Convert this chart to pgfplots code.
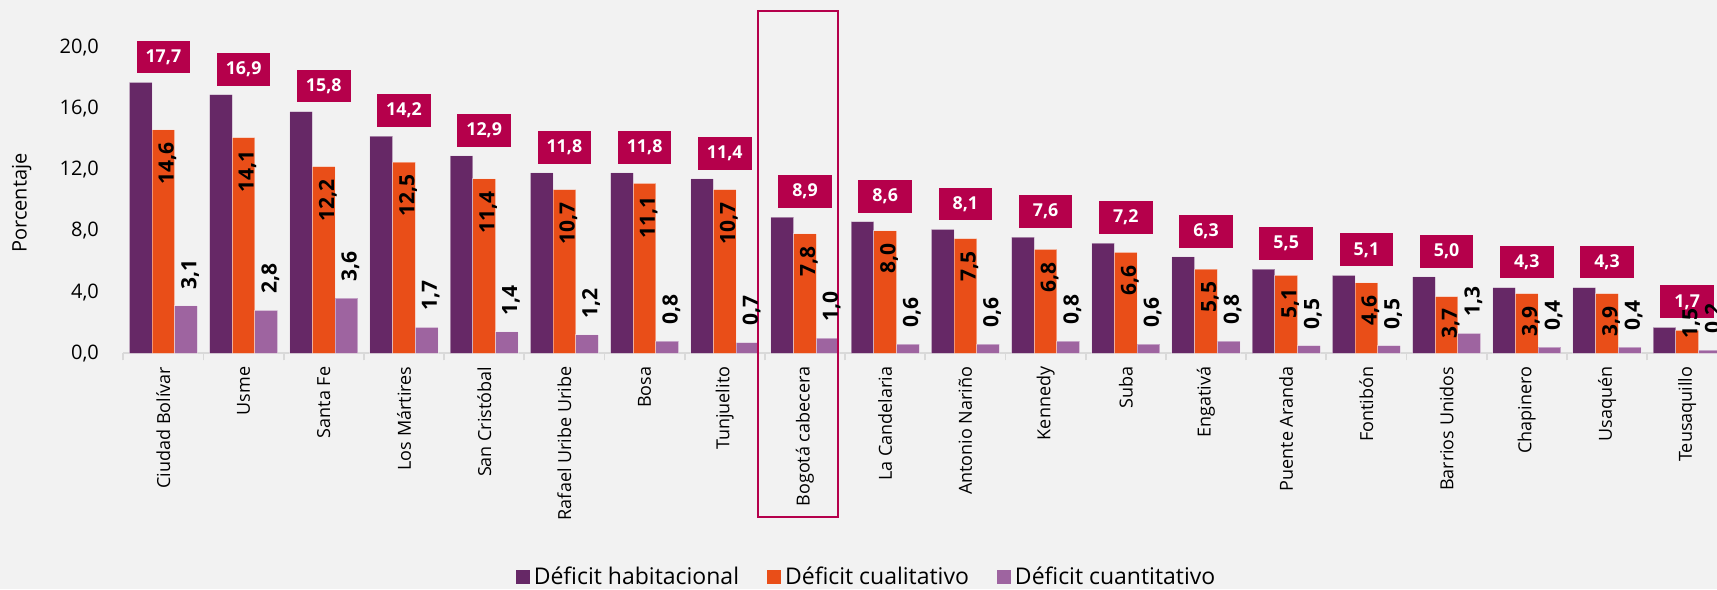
\documentclass[border=0pt]{standalone}
\usepackage{fontspec}
\setmainfont{Open Sans}
\usepackage{pgfplots}
\usepackage{pgfplotstable}
\pgfplotsset{compat=1.18}

\definecolor{fondo}{HTML}{F2F2F2}
\definecolor{morado}{HTML}{662866}
\definecolor{naranja}{HTML}{E94E18}
\definecolor{lila}{HTML}{9E64A0}
\definecolor{rojo}{HTML}{B5004B}
\definecolor{ejegris}{HTML}{D9D9D9}

% hab = deficit habitacional, cual = cualitativo, cuant = cuantitativo
\pgfplotstableread{
idx hab cual cuant
0  17.7 14.6 3.1
1  16.9 14.1 2.8
2  15.8 12.2 3.6
3  14.2 12.5 1.7
4  12.9 11.4 1.4
5  11.8 10.7 1.2
6  11.8 11.1 0.8
7  11.4 10.7 0.7
8  8.9  7.8  1.0
9  8.6  8.0  0.6
10 8.1  7.5  0.6
11 7.6  6.8  0.8
12 7.2  6.6  0.6
13 6.3  5.5  0.8
14 5.5  5.1  0.5
15 5.1  4.6  0.5
16 5.0  3.7  1.3
17 4.3  3.9  0.4
18 4.3  3.9  0.4
19 1.7  1.5  0.2
}\datos

\begin{document}
\begin{tikzpicture}
\path[use as bounding box] (-61.65pt,-117.85pt) rectangle (796.85pt,176.65pt);
\clip (-61.65pt,-117.85pt) rectangle (796.85pt,176.65pt);
\fill[fondo] (-61.65pt,-117.85pt) rectangle (796.85pt,176.65pt);
\begin{axis}[
  at={(0,0)}, anchor=south west,
  scale only axis, width=802pt, height=153pt,
  xmin=-0.5, xmax=19.5, ymin=0, ymax=20,
  clip=false,
  axis x line*=bottom, axis y line*=left,
  y axis line style={draw=none},
  x axis line style={-, draw=ejegris, line width=0.9pt},
  xtick={0,...,19},
  xticklabels={Ciudad Bolívar, Usme, Santa Fe, Los Mártires, San Cristóbal,
    Rafael Uribe Uribe, Bosa, Tunjuelito, Bogotá cabecera, La Candelaria,
    Antonio Nariño, Kennedy, Suba, Engativá, Puente Aranda, Fontibón,
    Barrios Unidos, Chapinero, Usaquén, Teusaquillo},
  minor xtick={-0.5,0.5,...,19.5},
  major x tick style={draw=none},
  minor x tick style={draw=ejegris, line width=0.9pt},
  minor tick length=3.5pt, major tick length=0pt,
  tick align=outside,
  ytick={0,4,...,20},
  ytick style={draw=none},
  /pgf/number format/assume math mode=true,
  /pgf/number format/.cd, fixed, fixed zerofill, precision=1, use comma,
  /pgfplots/.cd,
  xticklabel style={rotate=90, anchor=east, inner sep=0pt, yshift=0pt, xshift=-6.5pt,
    font=\fontsize{9}{10}\selectfont},
  yticklabel style={anchor=east, inner sep=0pt, xshift=-12pt,
    font=\fontsize{10}{12}\selectfont},
  ylabel={Porcentaje},
  every axis y label/.style={at={(axis description cs:0,0.491)}, xshift=-50.8pt,
    rotate=90, anchor=center, font=\fontsize{10}{12}\selectfont},
  legend style={at={(axis description cs:0.464,-0.731)}, anchor=center,
    legend columns=3, draw=none, fill=none, font=\fontsize{11.5}{13}\selectfont,
    /tikz/every even column/.append style={column sep=12pt}},
  legend image code/.code={\fill[#1, draw=none] (0pt,-3.7pt) rectangle (7pt,3.7pt);},
]
% barras
\addplot[ybar, bar width=0.283, bar shift=-0.283, fill=morado, draw=white, draw opacity=0.4, line width=0.5pt,
  nodes near coords,
  every node near coord/.style={anchor=south, yshift=4.3pt, fill=rojo, text=white,
    inner sep=0pt, minimum width=26.85pt, minimum height=16.35pt,
    font=\fontsize{8.9}{10}\bfseries}]
  table[x=idx, y=hab] {\datos};
\addlegendentry{Déficit habitacional}
\addplot[ybar, bar width=0.283, bar shift=0, fill=naranja, draw=white, draw opacity=0.4, line width=0.5pt]
  table[x=idx, y=cual] {\datos};
\addlegendentry{Déficit cualitativo}
\addplot[ybar, bar width=0.283, bar shift=0.283, fill=lila, draw=white, draw opacity=0.4, line width=0.5pt]
  table[x=idx, y=cuant] {\datos};
\addlegendentry{Déficit cuantitativo}
% etiquetas giradas (centradas en el punto)
\addplot[draw=none, forget plot,
  point meta=explicit, nodes near coords, nodes near coords align={center},
  every node near coord/.style={xshift=2pt, rotate=90, anchor=center, inner sep=0pt, text=black,
    font=\fontsize{10.5}{12}\bfseries}]
  table[x expr=\thisrow{idx},
    y expr={ifthenelse(\thisrow{cual}>=10, \thisrow{cual}-2.21, max(\thisrow{cual}-1.82, 1.96))},
    meta=cual] {\datos};
\addplot[draw=none, forget plot,
  point meta=explicit, nodes near coords, nodes near coords align={center},
  every node near coord/.style={xshift=2pt, rotate=90, anchor=center, inner sep=0pt, text=black,
    font=\fontsize{10.5}{12}\bfseries}]
  table[x expr=\thisrow{idx}+0.283, y expr=\thisrow{cuant}+2.07, meta=cuant] {\datos};
% recuadro Bogota cabecera
\draw[rojo, line width=1pt] (axis cs:7.41,-10.68) rectangle (axis cs:8.415,22.39);
\end{axis}
\end{tikzpicture}
\end{document}
